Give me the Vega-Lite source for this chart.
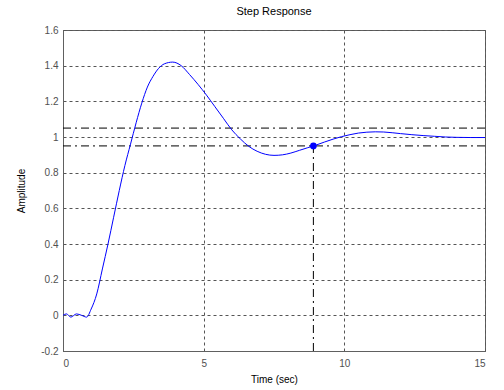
{
  "$schema": "https://vega.github.io/schema/vega-lite/v6.json",
  "width": 422,
  "height": 321,
  "autosize": "none",
  "padding": {"left": 63, "top": 30, "right": 19, "bottom": 39},
  "title": {"text": "Step Response", "fontSize": 11, "fontWeight": "normal", "font": "Liberation Sans", "color": "#000000", "offset": 8},
  "config": {
    "view": {"stroke": "#606060", "strokeWidth": 1},
    "axis": {
      "labelFont": "Liberation Sans", "labelFontSize": 10, "labelColor": "#505050",
      "titleFont": "Liberation Sans", "titleFontSize": 10, "titleFontWeight": "normal", "titleColor": "#000000",
      "domainColor": "#606060", "ticks": false, "labelOverlap": false,
      "grid": true, "gridColor": "#555555", "gridDash": [3, 3], "gridOpacity": 1, "gridWidth": 1
    }
  },
  "datasets": {
    "curve": [
      {"t": 0, "amp": 0}, {"t": 0.12, "amp": 0.008}, {"t": 0.28, "amp": -0.01}, {"t": 0.48, "amp": 0.008},
      {"t": 0.66, "amp": 0.0}, {"t": 0.84, "amp": -0.01}, {"t": 1.0, "amp": 0.035}, {"t": 1.2, "amp": 0.12},
      {"t": 1.4, "amp": 0.26}, {"t": 1.6, "amp": 0.4}, {"t": 1.8, "amp": 0.55}, {"t": 2.0, "amp": 0.7},
      {"t": 2.2, "amp": 0.84}, {"t": 2.4, "amp": 0.96}, {"t": 2.6, "amp": 1.08}, {"t": 2.8, "amp": 1.19},
      {"t": 3.0, "amp": 1.28}, {"t": 3.2, "amp": 1.34}, {"t": 3.4, "amp": 1.385}, {"t": 3.6, "amp": 1.41},
      {"t": 3.9, "amp": 1.42}, {"t": 4.2, "amp": 1.4}, {"t": 4.5, "amp": 1.35}, {"t": 4.8, "amp": 1.295},
      {"t": 5.1, "amp": 1.235}, {"t": 5.4, "amp": 1.17}, {"t": 5.7, "amp": 1.105}, {"t": 6.0, "amp": 1.04},
      {"t": 6.3, "amp": 0.99}, {"t": 6.6, "amp": 0.948}, {"t": 6.9, "amp": 0.92}, {"t": 7.2, "amp": 0.903},
      {"t": 7.5, "amp": 0.897}, {"t": 7.8, "amp": 0.9}, {"t": 8.1, "amp": 0.91}, {"t": 8.4, "amp": 0.925},
      {"t": 8.7, "amp": 0.94}, {"t": 9.0, "amp": 0.955}, {"t": 9.3, "amp": 0.972}, {"t": 9.6, "amp": 0.988},
      {"t": 9.9, "amp": 1.002}, {"t": 10.2, "amp": 1.013}, {"t": 10.5, "amp": 1.022}, {"t": 10.8, "amp": 1.027},
      {"t": 11.1, "amp": 1.029}, {"t": 11.4, "amp": 1.028}, {"t": 11.7, "amp": 1.024}, {"t": 12.0, "amp": 1.019},
      {"t": 12.4, "amp": 1.013}, {"t": 12.8, "amp": 1.008}, {"t": 13.2, "amp": 1.004}, {"t": 13.6, "amp": 1.0},
      {"t": 14.0, "amp": 0.998}, {"t": 14.5, "amp": 0.997}, {"t": 15.0, "amp": 0.997}
    ],
    "hlines": [{"x1": 0, "x2": 15, "y": 1.05}, {"x1": 0, "x2": 15, "y": 0.95}],
    "vline": [{"x": 8.9, "y1": -0.2, "y2": 0.95}],
    "marker": [{"t": 8.9, "amp": 0.95}]
  },
  "layer": [
    {
      "data": {"name": "hlines"},
      "mark": {"type": "rule", "color": "#000000", "strokeDash": [8, 4, 2, 4], "strokeWidth": 1},
      "encoding": {
        "x": {"field": "x1", "type": "quantitative", "scale": {"domain": [0, 15], "nice": false}, "axis": {"values": [0, 5, 10, 15], "tickCount": 20, "title": "Time (sec)", "labelPadding": 7, "titlePadding": 6}},
        "x2": {"field": "x2"},
        "y": {"field": "y", "type": "quantitative", "scale": {"domain": [-0.2, 1.6], "nice": false}, "axis": {"values": [-0.2, 0, 0.2, 0.4, 0.6, 0.8, 1, 1.2, 1.4, 1.6], "tickCount": 20, "labelExpr": "'' + round(datum.value*10)/10", "title": "Amplitude", "labelPadding": 5, "titlePadding": 14}}
      }
    },
    {
      "data": {"name": "vline"},
      "mark": {"type": "rule", "color": "#000000", "strokeDash": [8, 4, 2, 4], "strokeWidth": 1},
      "encoding": {
        "x": {"field": "x", "type": "quantitative"},
        "y": {"field": "y1", "type": "quantitative"},
        "y2": {"field": "y2"}
      }
    },
    {
      "data": {"name": "curve"},
      "mark": {"type": "line", "color": "#0000ff", "strokeWidth": 1, "interpolate": "monotone"},
      "encoding": {
        "x": {"field": "t", "type": "quantitative"},
        "y": {"field": "amp", "type": "quantitative"}
      }
    },
    {
      "data": {"name": "marker"},
      "mark": {"type": "point", "filled": true, "color": "#0000ff", "size": 45, "opacity": 1},
      "encoding": {
        "x": {"field": "t", "type": "quantitative"},
        "y": {"field": "amp", "type": "quantitative"}
      }
    }
  ]
}
